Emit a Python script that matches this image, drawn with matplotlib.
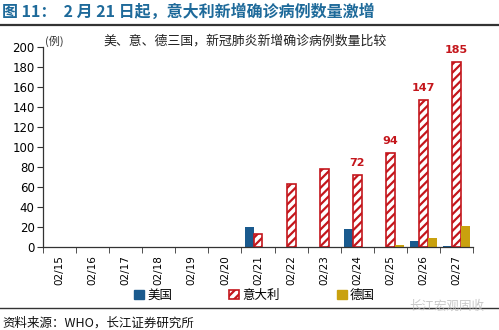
import matplotlib
matplotlib.use("Agg")
import matplotlib.pyplot as plt
import numpy as np
from matplotlib.patches import Patch
from matplotlib.lines import Line2D

plt.rcParams['font.family'] = ['Noto Sans CJK SC', 'DejaVu Sans']
plt.rcParams['hatch.linewidth'] = 1.6

dates = ["02/15", "02/16", "02/17", "02/18", "02/19", "02/20", "02/21",
         "02/22", "02/23", "02/24", "02/25", "02/26", "02/27"]
usa = [0, 0, 0, 0, 0, 0, 20, 0, 0, 18, 0, 6, 1]
italy = [0, 0, 0, 0, 0, 0, 13, 63, 78, 72, 94, 147, 185]
germany = [0, 0, 0, 0, 0, 0, 0, 0, 0, 0, 2, 9, 21]
labelled = ["02/24", "02/25", "02/26", "02/27"]
yticks = list(range(0, 201, 20))

c_us = "#1A5A8E"
c_it = "#C4161C"
c_de = "#C9A10E"
c_title = "#1E6A9A"

fig = plt.figure(figsize=(4.99, 3.30), dpi=100)
ax = fig.add_axes([0.086, 0.2515, 0.862, 0.606])

x = np.arange(len(dates))
w = 0.27
ax.bar(x - w, usa, w, color=c_us, linewidth=0)
ax.bar(x, italy, w, facecolor="white", edgecolor=c_it, hatch="////",
       linewidth=[1.2 if v > 0 else 0 for v in italy])
ax.bar(x + w, germany, w, color=c_de, linewidth=0)

for d in labelled:
    i = dates.index(d)
    ax.text(x[i], italy[i] + 7, str(italy[i]), ha="center", va="bottom",
            color=c_it, fontsize=8, fontweight="bold", family="DejaVu Sans")

ax.set_xlim(-0.5, len(dates) - 0.5)
ax.set_ylim(0, 200)
ax.set_yticks(yticks)
ax.set_yticklabels([str(v) for v in yticks], fontsize=8.5, family="DejaVu Sans")
ax.set_xticks(x)
ax.set_xticklabels(dates, rotation=90, fontsize=7.5, family="DejaVu Sans")
ax.tick_params(axis="x", length=0, pad=6)
ax.set_xticks(np.arange(-0.5, len(dates), 1), minor=True)
ax.tick_params(axis="x", which="minor", length=4, color="#333333", direction="out")
ax.tick_params(axis="y", length=4, color="#333333", direction="out", pad=2)
for s in ["top", "right"]:
    ax.spines[s].set_visible(False)
for s in ["left", "bottom"]:
    ax.spines[s].set_color("#333333")
    ax.spines[s].set_linewidth(0.9)

ax.text(-0.45, 200, "(例)", fontsize=8, va="bottom", ha="left", color="#333333")
fig.text(103 / 499, 1 - 41 / 330, "美、意、德三国，新冠肺炎新增确诊病例数量比较",
         ha="left", va="center", fontsize=9.3, color="#222222")

# legend
handles = [Patch(facecolor=c_us, edgecolor=c_us),
           Patch(facecolor="white", edgecolor=c_it, hatch="////", linewidth=1.2),
           Patch(facecolor=c_de, edgecolor=c_de)]
fig.legend(handles, ["美国", "意大利", "德国"], loc="center", bbox_to_anchor=(0.51, 0.105),
           ncol=3, frameon=False, fontsize=9, handlelength=0.8, handleheight=0.8,
           handletextpad=0.2, columnspacing=4.6)

# header and footer
fig.text(0.004, 0.965, "图 11：  2 月 21 日起，意大利新增确诊病例数量激增", fontsize=11.5,
         fontweight="bold", color=c_title, va="center", ha="left")
fig.add_artist(Line2D([0, 1], [0.925, 0.925], color="#333333", linewidth=1.6))
fig.add_artist(Line2D([0, 1], [0.068, 0.068], color="#333333", linewidth=1.0))
fig.text(0.004, 0.022, "资料来源：WHO，长江证券研究所", fontsize=9, color="#111111",
         va="center", ha="left")
fig.text(0.82, 0.072, "长江宏观固收", fontsize=9, color="#bbbbbb", alpha=0.8,
         va="center", ha="left")

fig.savefig("out.png", dpi=100)
